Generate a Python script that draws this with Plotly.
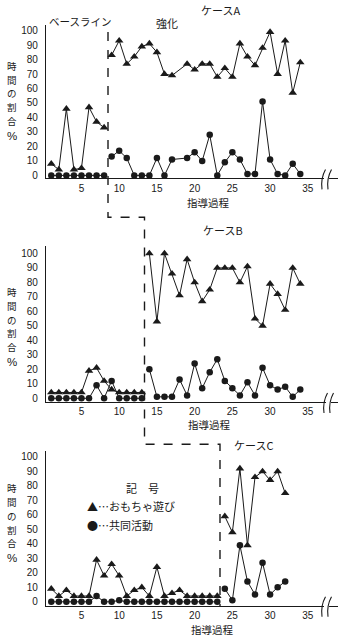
import plotly.graph_objects as go

# ---------------- data ----------------
# Case A (session 18 has no data)
A_sessions = list(range(1, 18)) + list(range(19, 35))
A_toy = [8, 4, 46, 4, 5, 47, 37, 33,
         83, 93, 77, 82, 89, 91, 85, 70, 69,
         77, 73, 77, 77, 68, 74, 68, 91, 82, 76, 88, 99, 70, 93, 57, 78]
A_coop = [0, 0, 0, 0, 0, 0, 0, 0,
          13, 17, 12, 0, 0, 0, 12, 0, 11,
          12, 16, 10, 28, 0, 9, 16, 11, 1, 1, 51, 11, 1, 0, 8, 1]
A_base_end = 8

# Case B
B_sessions = list(range(1, 35))
B_toy = [4, 4, 4, 4, 4, 19, 21, 12, 6, 4, 4, 4, 4,
         100, 53, 100, 86, 71, 96, 80, 67, 75, 90, 90, 90, 80, 91, 55, 50, 79, 72, 61, 90, 79]
B_coop = [0, 0, 0, 0, 0, 0, 9, 0, 12, 0, 0, 0, 0,
          20, 1, 1, 1, 13, 2, 24, 7, 18, 27, 12, 7, 2, 11, 2, 21, 9, 6, 8, 1, 6]
B_base_end = 13

# Case C
C_sessions = list(range(1, 33))
C_toy = [9, 4, 8, 4, 4, 4, 29, 18, 26, 18, 4, 8, 10, 4, 24, 4, 6, 8, 4, 4, 4, 4, 4,
         59, 48, 92, 39, 86, 90, 84, 90, 75]
C_coop = [0, 0, 0, 0, 0, 0, 4, 0, 0, 1, 0, 0, 0, 0, 0, 0, 0, 0, 0, 0, 0, 0, 0,
          9, 1, 39, 14, 5, 27, 5, 10, 14]
C_base_end = 23

x_ticks = [5, 10, 15, 20, 25, 30, 35]
y_ticks = list(range(0, 101, 10))

case_titles = ["ケースA", "ケースB", "ケースC"]
x_title = "指導過程"
y_title_chars = ["時", "間", "の", "割", "合"]
legend_title = "記　号"
legend_toy = "▲…おもちゃ遊び"
legend_coop = "●…共同活動"
phase_base = "ベースライン"
phase_treat = "強化"

# ---------------- layout helpers ----------------
W, H = 349, 641
def px(x):
    return x / W
def py(y):
    return 1 - y / H

INK = "#1a1a1a"
JP = "Noto Sans CJK JP"
NUM = "Liberation Sans, Arial, sans-serif"

panels = [
    dict(s=A_sessions, toy=A_toy, coop=A_coop, be=A_base_end, top=25, bot=179, yr=[-2.1, 103.9]),
    dict(s=B_sessions, toy=B_toy, coop=B_coop, be=B_base_end, top=246.7, bot=403.3, yr=[-2.6, 105.2]),
    dict(s=C_sessions, toy=C_toy, coop=C_coop, be=C_base_end, top=452.7, bot=607.7, yr=[-2.75, 103.9]),
]

fig = go.Figure()
layout = dict(width=W, height=H, margin=dict(l=0, r=0, t=0, b=0),
              paper_bgcolor="white", plot_bgcolor="white", showlegend=False)

for i, p in enumerate(panels):
    n = "" if i == 0 else str(i + 1)
    xa, ya = "x" + n, "y" + n
    for series, sym, size in [(p["toy"], "triangle-up", 7.5), (p["coop"], "circle", 6.5)]:
        for lo, hi in [(None, p["be"]), (p["be"], None)]:
            xs, ys = [], []
            for s, v in zip(p["s"], series):
                if (lo is None and s <= hi) or (hi is None and s > lo):
                    xs.append(s)
                    ys.append(v)
            fig.add_trace(go.Scatter(
                x=xs, y=ys, xaxis=xa, yaxis=ya, mode="lines+markers",
                line=dict(color=INK, width=1),
                marker=dict(symbol=sym, size=size, color=INK, line=dict(width=0)),
                cliponaxis=False, hoverinfo="skip"))
    layout["xaxis" + n] = dict(
        domain=[px(46), px(338)], range=[0.3, 39.0], anchor=ya,
        showline=True, linecolor=INK, linewidth=1.3, ticks="", showgrid=False, zeroline=False,
        tickvals=x_ticks, ticktext=[str(t) for t in x_ticks],
        tickfont=dict(family=NUM, size=10, color=INK))
    layout["yaxis" + n] = dict(
        domain=[py(p["bot"]), py(p["top"])], range=p["yr"], anchor=xa,
        showline=True, linecolor=INK, linewidth=1.3, ticks="", showgrid=False, zeroline=False,
        tickvals=y_ticks, ticktext=[str(t) for t in y_ticks], ticklabelstandoff=5,
        tickfont=dict(family=NUM, size=10, color=INK))

annotations = []
def txt(t, x, y, size=11, xanchor="center", yanchor="middle", family=JP):
    annotations.append(dict(text=t, x=px(x), y=py(y), xref="paper", yref="paper",
                            xanchor=xanchor, yanchor=yanchor, showarrow=False, borderpad=0,
                            font=dict(family=family, size=size, color=INK)))

# case titles, x-axis titles
txt(case_titles[0], 220, 10)
txt(case_titles[1], 223, 231)
txt(case_titles[2], 253, 446)
txt(x_title, 208, 203, size=10.5)
txt(x_title, 209, 426, size=10.5)
txt(x_title, 212, 631, size=10.5)
# phase labels
txt(phase_base, 48, 22, size=10.5, xanchor="left")
txt(phase_treat, 167, 23, size=11)
# vertical y titles (stacked characters)
for y0 in [66, 293, 490]:
    for k, ch in enumerate(y_title_chars):
        txt(ch, 12, y0 + k * 13.8, size=9.5)
    txt("%", 12, y0 + 70, size=11.5, family=NUM)
# legend (case C)
txt(legend_title, 142, 490)
txt(legend_toy, 86, 508, xanchor="left")
txt(legend_coop, 86, 527, xanchor="left")

layout["annotations"] = annotations

# shapes: dashed phase-change line and axis break marks
def P(x, y):
    return f"{px(x):.5f},{py(y):.5f}"

dash_path = ("M " + P(108, 32) + " L " + P(108, 218) + " L " + P(144.5, 218) +
             " L " + P(144.5, 445.7) + " L " + P(220, 445.7) + " L " + P(220, 608))
shapes = [dict(type="path", path=dash_path, xref="paper", yref="paper",
               line=dict(color=INK, width=1.4, dash="dash"))]

for yax, xb in [(179, 327), (403.3, 329), (607.7, 327)]:
    shapes.append(dict(type="rect", x0=px(xb - 3), x1=px(xb + 2), y0=py(yax + 2), y1=py(yax - 2),
                       xref="paper", yref="paper", fillcolor="white", line=dict(width=0)))
    for dx in (-4, 2):
        x0 = xb + dx
        path = ("M " + P(x0 + 2.5, yax - 9) + " Q " + P(x0 - 2.5, yax) + " " + P(x0 - 1, yax + 11))
        shapes.append(dict(type="path", path=path, xref="paper", yref="paper",
                           line=dict(color=INK, width=1.1)))
layout["shapes"] = shapes

fig.update_layout(**layout)
fig.write_html("out.html")
